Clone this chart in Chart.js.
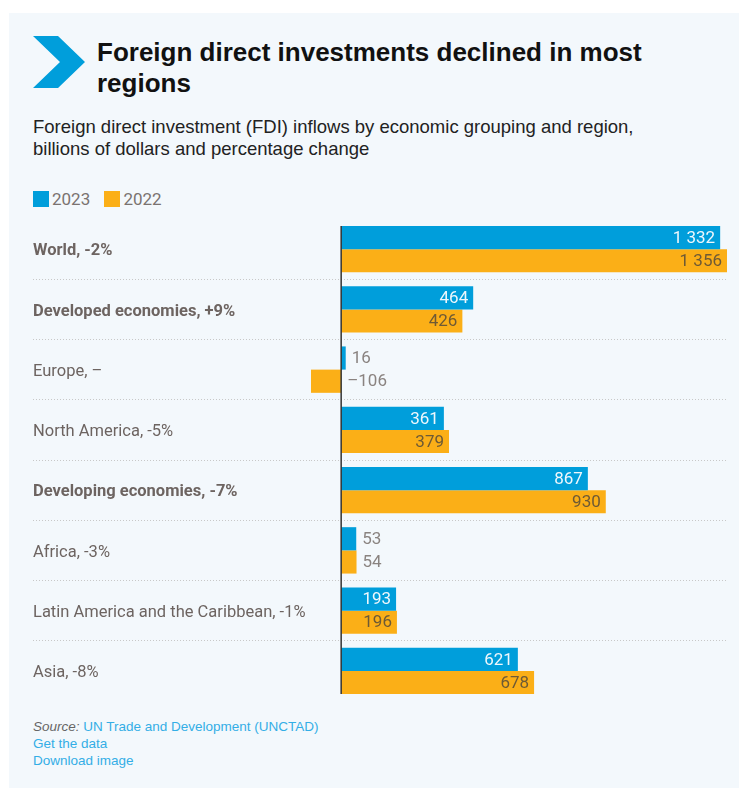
<!DOCTYPE html>
<html>
<head>
<meta charset="utf-8">
<script src="https://cdn.jsdelivr.net/npm/chart.js@4.4.1/dist/chart.umd.min.js"></script>
<style>
  body { margin: 0; background: #fff; font-family: "Liberation Sans", Arial, sans-serif; }
  #panel { position: absolute; left: 9px; top: 13px; width: 730px; height: 775px; background: #f3f8fc; }
  #chev { position: absolute; left: 33px; top: 36px; }
  #title { position: absolute; left: 97px; top: 37px; font-size: 26px; line-height: 31px; font-weight: bold; color: #111; }
  #subtitle { position: absolute; left: 33px; top: 116px; font-size: 18.5px; line-height: 22px; color: #222; }
  #legend { position: absolute; left: 33px; top: 189px; font-family: Roboto, sans-serif; font-size: 17px; color: #7a7370; }
  #legend span.sw { display: inline-block; width: 16px; height: 16px; vertical-align: -2px; margin-right: 3px; }
  #legend span.item { margin-right: 10px; }
  #wrap { position: absolute; left: 33px; top: 219px; width: 694px; height: 482px; }
  #footer { position: absolute; left: 33px; top: 718px; font-size: 13.5px; line-height: 17px; color: #33aee6; }
  #footer i { color: #666; }
</style>
</head>
<body>
<div id="panel"></div>
<svg id="chev" width="54" height="53" viewBox="0 0 54 53">
  <polygon points="0,0 25,0 52,26 25,52 0,52 27,26" fill="#009edb"/>
</svg>
<div id="title">Foreign direct investments declined in most<br>regions</div>
<div id="subtitle">Foreign direct investment (FDI) inflows by economic grouping and region,<br>billions of dollars and percentage change</div>
<div id="legend">
  <span class="item"><span class="sw" style="background:#009edb"></span>2023</span>
  <span class="item"><span class="sw" style="background:#fbaf17"></span>2022</span>
</div>
<div id="wrap"><canvas id="chart"></canvas></div>
<div id="footer"><i>Source:</i> UN Trade and Development (UNCTAD)<br>Get the data<br>Download image</div>

<script>
const categories = [
  "World, -2%",
  "Developed economies, +9%",
  "Europe, –",
  "North America, -5%",
  "Developing economies, -7%",
  "Africa, -3%",
  "Latin America and the Caribbean, -1%",
  "Asia, -8%"
];
const boldRows = [true, true, false, false, true, false, false, false];
const values2023 = [1332, 464, 16, 361, 867, 53, 193, 621];
const values2022 = [1356, 426, -106, 379, 930, 54, 196, 678];

const BLUE = "#009edb";
const ORANGE = "#fbaf17";
const LABEL_FONT = "Roboto, sans-serif";

function fmt(v) {
  const s = String(Math.abs(v)).replace(/\B(?=(\d{3})+(?!\d))/g, " ");
  return (v < 0 ? "\u2013" : "") + s;
}

// zero line + value labels
const valuePlugin = {
  id: "values",
  afterDatasetsDraw(chart) {
    const ctx = chart.ctx;
    const x = chart.scales.x;
    const zero = x.getPixelForValue(0);

    const first = chart.getDatasetMeta(0).data[0];
    const last = chart.getDatasetMeta(1).data[categories.length - 1];
    ctx.save();
    ctx.strokeStyle = "#333";
    ctx.lineWidth = 1.5;
    ctx.beginPath();
    ctx.moveTo(zero, first.y - first.height / 2);
    ctx.lineTo(zero, last.y + last.height / 2);
    ctx.stroke();

    ctx.font = "17px " + LABEL_FONT;
    ctx.textBaseline = "middle";
    chart.data.datasets.forEach((ds, di) => {
      chart.getDatasetMeta(di).data.forEach((bar, i) => {
        const v = ds.data[i];
        const txt = fmt(v);
        const w = ctx.measureText(txt).width;
        const barW = Math.abs(bar.x - bar.base);
        if (v > 0 && barW > w + 12) {
          ctx.textAlign = "right";
          ctx.fillStyle = di === 0 ? "#eef7fc" : "#6e5a35";
          ctx.fillText(txt, bar.x - 5, bar.y + 1);
        } else {
          ctx.textAlign = "left";
          ctx.fillStyle = "#8a8380";
          ctx.fillText(txt, Math.max(bar.x, zero) + 6, bar.y + 1);
        }
      });
    });
    ctx.restore();
  }
};

const allVals = values2023.concat(values2022);

new Chart(document.getElementById("chart"), {
  type: "bar",
  data: {
    labels: categories,
    datasets: [
      { label: "2023", data: values2023, backgroundColor: BLUE },
      { label: "2022", data: values2022, backgroundColor: ORANGE }
    ]
  },
  options: {
    indexAxis: "y",
    responsive: true,
    maintainAspectRatio: false,
    animation: false,
    categoryPercentage: 0.77,
    barPercentage: 1.0,
    layout: { padding: 0 },
    plugins: { legend: { display: false }, tooltip: { enabled: false } },
    scales: {
      x: {
        display: false,
        min: Math.min(...allVals),
        max: Math.max(...allVals)
      },
      y: {
        grid: {
          color: (c) => (c.type === "tick" && c.index > 0 ? "#c8c8c8" : "transparent"),
          tickColor: (c) => (c.type === "tick" && c.index > 0 ? "#c8c8c8" : "transparent"),
          tickLength: 278,
          tickBorderDash: [1, 2],
          lineWidth: 1
        },
        border: { display: false, dash: [1, 2] },
        ticks: {
          crossAlign: "far",
          labelOffset: 2,
          color: "#6d6461",
          font: (c) => ({ family: LABEL_FONT, size: 16.5, weight: boldRows[c.index] ? "bold" : "normal" })
        },
        afterFit(scale) {
          scale.width = 278;
          scale.paddingTop = 0;
          scale.paddingBottom = 0;
        }
      }
    }
  },
  plugins: [valuePlugin]
});
</script>
</body>
</html>
